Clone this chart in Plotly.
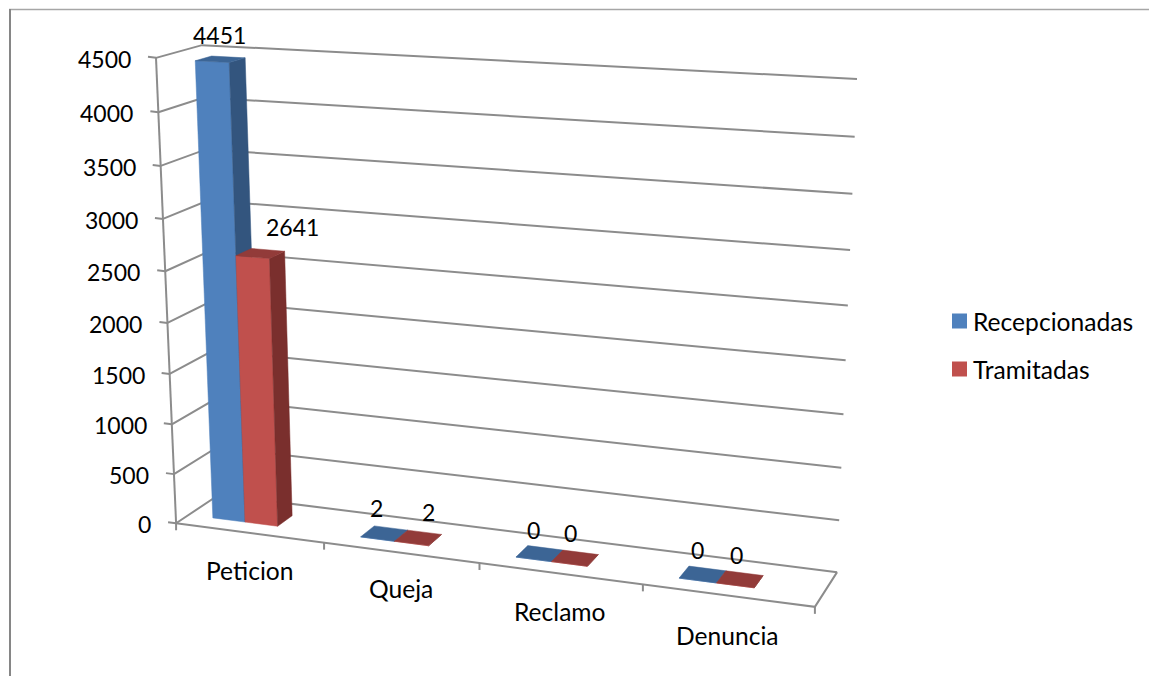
import numpy as np
import plotly.graph_objects as go

# Chart data
categories = ["Peticion", "Queja", "Reclamo", "Denuncia"]
recepcionadas = [4451, 2, 0, 0]
tramitadas = [2641, 2, 0, 0]
series_names = ["Recepcionadas", "Tramitadas"]
value_ticks = [0, 500, 1000, 1500, 2000, 2500, 3000, 3500, 4000, 4500]
axis_max = 4500

# Colours per series: front, side, top faces
FACE_COLORS = [
    ("#4F81BD", "#33557E", "#3C6595"),
    ("#C0504D", "#7A2F2D", "#923B39"),
]
GRID = "#8C8C8C"
FONT = "Lato, Carlito, Calibri, sans-serif"
FS_DIGITS = 23
FS_WORDS = 24.6

# Bar layout inside a category slot, in slot and depth units
BAR_START, BAR_W = 0.167, 0.222
BAR_FRONT, BAR_BACK = 0.29, 0.65

# Data label nudges in pixels, per series and category
LABEL_NUDGE = [
    [(-1, -24), (-8, -25), (-6, -24), (-5, -24)],
    [(32, -26), (10, -26), (-5, -25), (-3, -24)],
]
# Distance of each category label below the front floor edge
CATEGORY_DROP = [38, 36, 38, 40]

# Key placement: swatch centre, label start, first row and row spacing
KEY_SWATCH_X, KEY_TEXT_X, KEY_Y, KEY_ROW = 959.5, 971, 321, 48

# Perspective of the plot box: (across, height, depth) -> screen position
box_corners = [
    ((0, 0, 0), (176, 523)), ((0, 1, 0), (156, 58)),
    ((0, 0, 1), (219, 495)), ((0, 1, 1), (202, 45)),
    ((1, 0, 0), (815, 607)), ((1, 0, 1), (837, 572)),
    ((1, 1, 1), (857, 79)),
]
rows, rhs = [], []
for (a, b, c), (px, py) in box_corners:
    rows.append([a, b, c, 1, 0, 0, 0, 0, -px * a, -px * b, -px * c]); rhs.append(px)
    rows.append([0, 0, 0, 0, a, b, c, 1, -py * a, -py * b, -py * c]); rhs.append(py)
sol = np.linalg.lstsq(np.array(rows, float), np.array(rhs, float), rcond=None)[0]
P = np.append(sol, 1.0).reshape(3, 4)


def project(slot, value, depth):
    h = P @ np.array([slot / len(categories), value / axis_max, depth, 1.0])
    return h[0] / h[2], h[1] / h[2]


def polygon(points, color):
    xs, ys = zip(*points)
    return go.Scatter(x=list(xs) + [xs[0]], y=list(ys) + [ys[0]], mode="lines", fill="toself",
                      fillcolor=color, line=dict(color=color, width=0.5),
                      showlegend=False, hoverinfo="skip")


def polyline(points, width=2):
    xs = [p[0] if p else None for p in points]
    ys = [p[1] if p else None for p in points]
    return go.Scatter(x=xs, y=ys, mode="lines", line=dict(color=GRID, width=width),
                      showlegend=False, hoverinfo="skip")


fig = go.Figure()
n = len(categories)

# Walls: gridlines run along the left wall and across the back wall
wall = []
for v in value_ticks:
    wall += [project(0, v, 0), project(0, v, 1)]
    wall += [project(n, v, 1), None]
fig.add_trace(polyline(wall))

# Floor edges and the two axes with their tick marks
frame = [project(0, 0, 0), project(n, 0, 0), project(n, 0, 1), None,
         project(0, 0, 0), project(0, axis_max, 0), None]
for v in value_ticks:
    x, y = project(0, v, 0)
    frame += [(x - 8, y - 1), (x, y), None]
for i in range(n + 1):
    x, y = project(i, 0, 0)
    frame += [(x, y), (x, y + 7), None]
fig.add_trace(polyline(frame))

# Columns
for s, values in enumerate([recepcionadas, tramitadas]):
    front, side, top = FACE_COLORS[s]
    for i, val in enumerate(values):
        a = i + BAR_START + s * BAR_W
        b = a + BAR_W
        fig.add_trace(polygon([project(a, 0, BAR_FRONT), project(b, 0, BAR_FRONT),
                               project(b, val, BAR_FRONT), project(a, val, BAR_FRONT)], front))
        fig.add_trace(polygon([project(b, 0, BAR_FRONT), project(b, 0, BAR_BACK),
                               project(b, val, BAR_BACK), project(b, val, BAR_FRONT)], side))
        fig.add_trace(polygon([project(a, val, BAR_FRONT), project(b, val, BAR_FRONT),
                               project(b, val, BAR_BACK), project(a, val, BAR_BACK)], top))

annotations = []


def label(x, y, text, size, anchor="center"):
    annotations.append(dict(x=x, y=y, text=text, showarrow=False, xanchor=anchor, yanchor="middle",
                            xref="x", yref="y", font=dict(family=FONT, size=size, color="#000000")))


# Series key: a square swatch with its name beside it
for s, (name, colors) in enumerate(zip(series_names, FACE_COLORS)):
    key_y = KEY_Y + s * KEY_ROW
    fig.add_trace(go.Scatter(x=[KEY_SWATCH_X], y=[key_y], mode="markers", name=name,
                             marker=dict(symbol="square", size=15, color=colors[0], line=dict(width=0)),
                             showlegend=False, hoverinfo="name"))
    label(KEY_TEXT_X, key_y, name, FS_WORDS, "left")

for v in value_ticks:
    x, y = project(0, v, 0)
    label(x - 23, y + 1, str(v), FS_DIGITS, "right")
for i, cat in enumerate(categories):
    x, y = project(i + 0.5, 0, 0)
    label(x, y + CATEGORY_DROP[i], cat, FS_WORDS)
for s, values in enumerate([recepcionadas, tramitadas]):
    for i, val in enumerate(values):
        a = i + BAR_START + (s + 0.5) * BAR_W
        x, y = project(a, val, (BAR_FRONT + BAR_BACK) / 2)
        dx, dy = LABEL_NUDGE[s][i]
        label(x + dx, y + dy, str(val), FS_DIGITS)

fig.update_layout(
    width=1149, height=676, margin=dict(l=0, r=0, t=0, b=0),
    paper_bgcolor="white", plot_bgcolor="white",
    xaxis=dict(range=[0, 1149], visible=False),
    yaxis=dict(range=[676, 0], visible=False),
    annotations=annotations,
    showlegend=False,
    shapes=[
        dict(type="line", xref="x", yref="y", x0=9, y0=9.5, x1=1149, y1=9.5,
             line=dict(color="#A6A6A6", width=1.5)),
        dict(type="line", xref="x", yref="y", x0=10, y0=9, x1=10, y1=676,
             line=dict(color="#868686", width=2)),
    ],
)

fig.write_html("out.html")
